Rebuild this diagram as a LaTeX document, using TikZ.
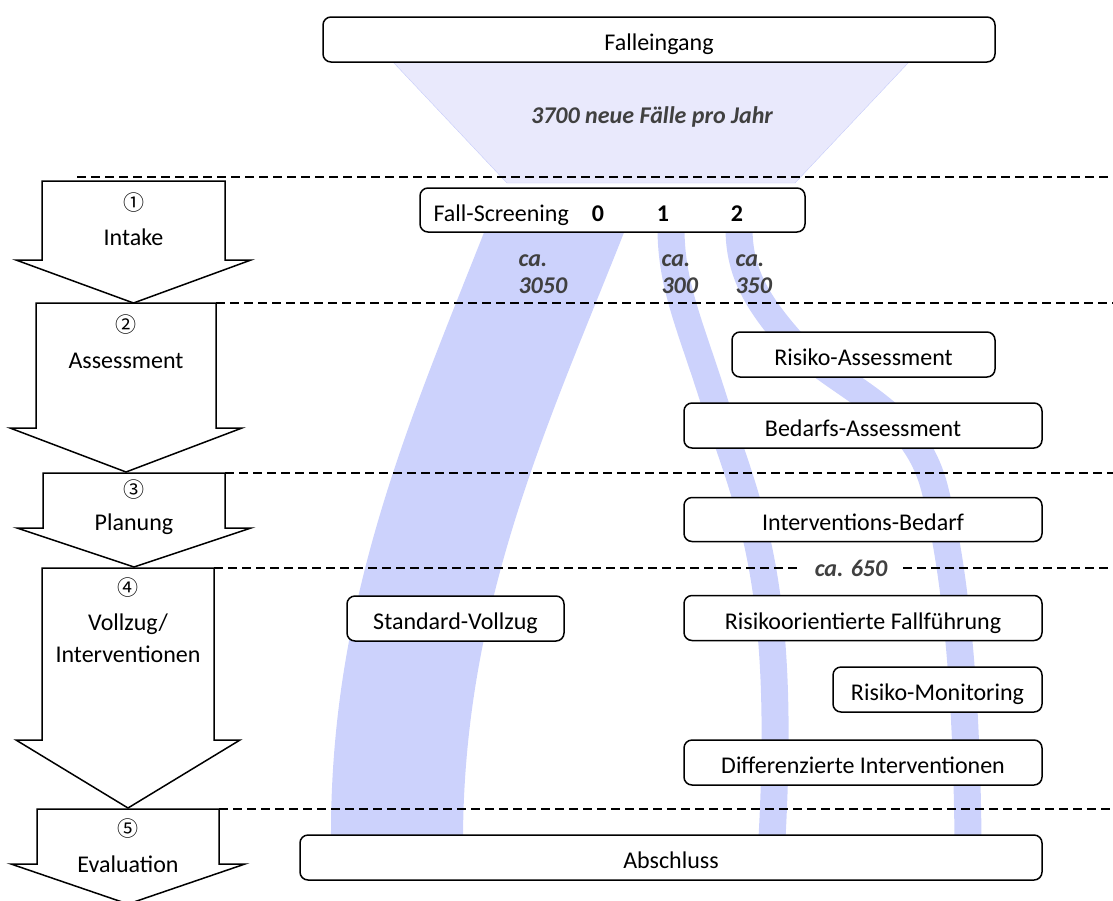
\documentclass[tikz,border=0pt]{standalone}
\usepackage{fontspec}
\setmainfont{Carlito}
\newfontfamily\circfont{Noto Sans CJK JP}
\usepackage{tikz}
\usetikzlibrary{arrows.meta}
\definecolor{flowblue}{RGB}{204,210,252}
\definecolor{funnelfill}{RGB}{233,233,252}
\definecolor{funnelline}{RGB}{198,204,250}
\definecolor{countgray}{RGB}{64,64,64}
\tikzset{every node/.style={align=center,font=\fontsize{24}{29}\selectfont},
  stagebox/.style={draw,line width=1.5pt,rounded corners=8pt,fill=white,
    inner sep=0pt,minimum height=45pt,text height=22pt,text depth=0pt},
  phase/.style={draw,line width=1.5pt,fill=white},
  sepline/.style={line width=1.5pt,dash pattern=on 9pt off 5pt},
  countlabel/.style={font=\fontsize{24}{27}\selectfont\bfseries\itshape,text=countgray,align=left},
  flowband/.style={draw=flowblue,line width=27pt}}
\newcommand{\stepnum}[1]{{\circfont\fontsize{21}{24}\selectfont #1}}

\begin{document}
\begin{tikzpicture}[x=1pt,y=-1pt]
        \useasboundingbox (0,0) rectangle (1113,900);

        % incoming cases
        \filldraw[fill=funnelfill,draw=funnelline] (393,62) -- (909,62) -- (795,183) -- (507,183) -- cycle;
        \node[countlabel] (perYear) at (652,117) {3700 neue Fälle pro Jahr};

        % flow of screening result 0
        \coordinate (f0a) at (485,230); \coordinate (f0b) at (625,230);
        \coordinate (e0a) at (331,838); \coordinate (e0b) at (463,838);
        \fill[flowblue] (f0a) .. controls (410,420) and (330,600) .. (e0a) -- (e0b)
            .. controls (464,600) and (550,420) .. (f0b) -- cycle;

        % flow of screening result 1
        \coordinate (f1) at (671,228); \coordinate (e1) at (772,838);
        \draw[flowband] (f1) .. controls (671,290) and (693,330) .. (720,420)
            .. controls (755,520) and (785,600) .. (e1);

        % flow of screening result 2
        \coordinate (f2) at (739,228); \coordinate (e2) at (968,838);
        \draw[flowband] (f2) .. controls (739,270) and (755,300) .. (790,340)
            .. controls (850,395) and (915,410) .. (935,490)
            .. controls (950,550) and (966,650) .. (e2);

        % phase borders
        \node[countlabel,inner xsep=16pt] (ca650) at (851,568) {ca. 650};
        \draw[sepline] (77,177) -- (1113,177);
        \draw[sepline] (216,303) -- (1113,303);
        \draw[sepline] (225,473) -- (1113,473);
        \draw[sepline] (214,568) -- (ca650.west);
        \draw[sepline] (ca650.east) -- (1113,568);
        \draw[sepline] (219,809) -- (1113,809);

        % phase arrows
        \draw[phase] (42,181) -- (225,181) -- (225,260) -- (251,260) -- (133.5,303) -- (16,260) -- (42,260) -- cycle;
        \draw[phase] (36,303) -- (216,303) -- (216,428) -- (242,428) -- (126,472) -- (10,428) -- (36,428) -- cycle;
        \draw[phase] (43,473) -- (225,473) -- (225,528) -- (251,528) -- (134,567) -- (17,528) -- (43,528) -- cycle;
        \draw[phase] (42,568) -- (214,568) -- (214,740) -- (240,740) -- (128,808) -- (16,740) -- (42,740) -- cycle;
        \draw[phase] (37,809) -- (219,809) -- (219,864) -- (245,864) -- (128,904) -- (11,864) -- (37,864) -- cycle;

        \node (num1) at (133.5,203) {\stepnum{①}};
        \node (intake) at (133.5,237) {Intake};
        \node (num2) at (126,325) {\stepnum{②}};
        \node (assess) at (126,361) {Assessment};
        \node (num3) at (134,490) {\stepnum{③}};
        \node (plan) at (134,524) {Planung};
        \node (num4) at (128,588) {\stepnum{④}};
        \node[font=\fontsize{24}{32}\selectfont] (exec) at (128,638) {Vollzug/\\Interventionen};
        \node (num5) at (128,829) {\stepnum{⑤}};
        \node (eval) at (128,864) {Evaluation};

        % process steps
        \node[stagebox,minimum width=672pt] (fall) at (659,39.5) {Falleingang};
        \node[stagebox,minimum width=385pt,minimum height=44pt] (screen) at (612.5,210) {};
        \node[anchor=base west] (screenText) at (430,221) {Fall-Screening};
        \node[anchor=base] (s0) at (598,221) {\textbf{0}};
        \node[anchor=base] (s1) at (663,221) {\textbf{1}};
        \node[anchor=base] (s2) at (737,221) {\textbf{2}};
        \node[stagebox,minimum width=263pt] (riskAss) at (863.5,354.5) {Risiko-Assessment};
        \node[stagebox,minimum width=358pt] (needAss) at (863,425.5) {Bedarfs-Assessment};
        \node[stagebox,minimum width=358pt,minimum height=44pt] (intNeed) at (863,519.5) {Interventions-Bedarf};
        \node[stagebox,minimum width=217pt] (std) at (455.5,618.5) {Standard-Vollzug};
        \node[stagebox,minimum width=358pt] (riskCase) at (863,618) {Risikoorientierte Fallführung};
        \node[stagebox,minimum width=209pt] (monitor) at (937.5,689.5) {Risiko-Monitoring};
        \node[stagebox,minimum width=358pt] (diffInt) at (863,762.5) {Differenzierte Interventionen};
        \node[stagebox,minimum width=742pt] (close) at (671,857.5) {Abschluss};

        % case numbers
        \node[countlabel,anchor=west] (ca0) at (515,274) {ca.\\3050};
        \node[countlabel,anchor=west] (ca1) at (658,274) {ca.\\300};
        \node[countlabel,anchor=west] (ca2) at (732,274) {ca.\\350};

    \end{tikzpicture}
\end{document}
